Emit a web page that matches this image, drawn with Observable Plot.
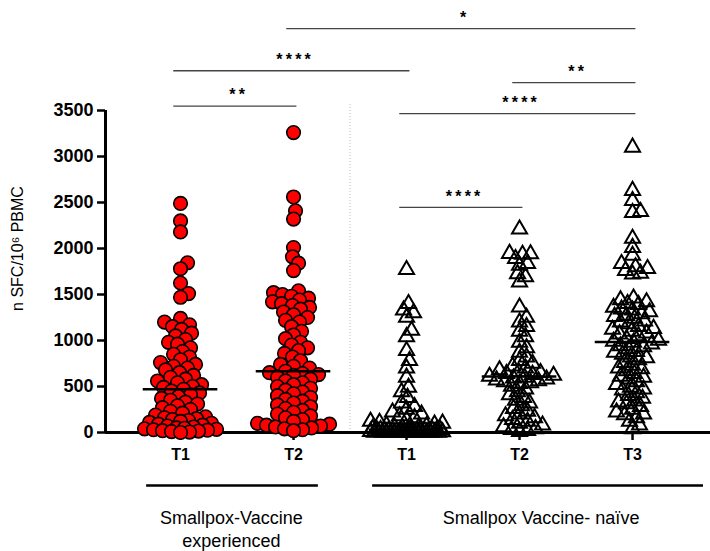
<!DOCTYPE html>
<html><head><meta charset="utf-8">
<script src="https://cdn.jsdelivr.net/npm/d3@7"></script>
<script src="https://cdn.jsdelivr.net/npm/@observablehq/plot@0.6"></script>
<style>body{margin:0;background:#fff} #chart svg{display:block}</style>
</head><body><div id="chart"></div>
<script>
// ---- data ----
const groupLabels = ["T1", "T2", "T1", "T2", "T3"];
const cohortNames = ["Smallpox-Vaccine\nexperienced", "Smallpox Vaccine- naïve"];
const cohortFrom = [0, 2];
const cohortTo = [1, 4];
const yLabel = "n SFC/10⁶ PBMC";

const expT1 = [2490, 2300, 2180, 1845, 1780, 1625, 1510, 1470,
  1240, 1200, 1170, 1150, 1120, 1080, 1050, 1010, 980, 960,
  920, 880, 850, 820, 790, 760, 740, 720, 700, 680,
  650, 620, 600, 580, 560, 540, 520, 500, 490, 470,
  450, 430, 410, 390, 370, 350, 330, 310, 290, 270, 250, 230, 210, 190, 170, 160,
  150, 140, 130, 120, 110, 100, 90, 80, 70, 60, 50, 45, 40, 35, 30, 25, 20, 15, 10, 5, 0];
const expT2 = [3260, 2560, 2410, 2320, 2010, 1910, 1840, 1760,
  1540, 1520, 1500, 1480, 1460, 1440, 1420, 1400, 1380, 1360, 1340, 1310, 1280, 1250, 1220, 1200,
  1150, 1100, 1060, 1020, 980, 950, 920, 890, 860,
  820, 780, 740, 720, 700, 665,
  650, 640, 630, 620, 600, 580, 560, 540, 520, 500, 480, 460, 440, 420, 400, 380, 360, 340,
  320, 300, 280, 260, 240, 220, 200, 180, 160, 140, 120, 100, 90, 80, 70, 60, 50, 40, 30, 20];
const naiveT1 = [1770, 1400, 1330, 1300, 1250, 1110, 1040, 890, 780, 700, 600, 490, 440, 380, 320,
  280, 250, 220, 200, 180, 160, 140, 120, 110, 100, 90, 80, 70, 60, 55, 50, 45, 40, 35, 30,
  28, 26, 25, 24, 22, 20, 19, 18, 16, 15, 14, 12, 11, 10, 9, 8, 7, 6, 5, 5, 4, 4, 3, 3, 2, 2, 1, 1, 0, 0, 0, 0, 0, 0];
const naiveT2 = [2210, 1945, 1940, 1935, 1890, 1835, 1815, 1725, 1690, 1635,
  1362, 1250, 1200, 1150, 1100, 1040, 980, 920, 870, 820, 780, 750, 720, 700, 680, 660, 650, 640, 630, 620,
  610,
  600, 590, 580, 570, 560, 550, 540, 530, 500, 470, 440, 410, 380, 350, 320, 290, 260, 230, 200, 180, 160,
  140, 120, 100, 80, 60, 40, 30, 20, 10];
const naiveT3 = [3100, 2630, 2520, 2400, 2390, 2110, 2010, 1925, 1835, 1800, 1780, 1760, 1730, 1720,
  1460, 1440, 1420, 1400, 1390, 1360, 1340, 1330, 1310, 1290, 1270, 1260, 1240, 1210, 1200, 1180, 1150, 1130,
  1120, 1100, 1080, 1070, 1050, 1020, 1000,
  990,
  980, 960, 940, 930, 910, 880, 870, 850, 820, 810, 790, 760, 730, 700, 690, 670, 640, 610, 600, 580, 550, 520,
  490, 470, 460, 430, 400, 370, 340, 330, 310, 280, 250, 220, 200, 190, 160, 120, 80, 40];

// significance brackets
const brFrom = [0, 0, 1, 3, 2, 2];
const brTo = [1, 2, 4, 4, 4, 3];
const brLevel = [3547, 3932, 4391, 3804, 3467, 2446];
const brLabel = ["**", "****", "*", "**", "****", "****"];

// ---- layout ----
const W = 710, H = 551, mL = 105, mR = 0, mT = 110, mB = 119;
const xDom = [-0.664, 4.69];
const yDom = [0, 3500];
const xs = d3.scaleLinear(xDom, [mL, W - mR]);
const ys = d3.scaleLinear(yDom, [H - mB, mT]);
const ppu = xs(1) - xs(0);

function swarm(vals, minD, maxW) {
  const order = vals.map((v, k) => k).sort((a, b) => vals[a] - vals[b]);
  const placed = [];
  const off = new Array(vals.length).fill(0);
  const cands = [0];
  for (let s = 1; s <= maxW; s++) { cands.push(s, -s); }
  for (const k of order) {
    const y = ys(vals[k]);
    let best = 0, bestMd = -1;
    for (const c of cands) {
      let md = Infinity;
      for (const p of placed) {
        const d = Math.hypot(p.x - c, p.y - y);
        if (d < md) md = d;
      }
      if (md >= minD) { best = c; bestMd = md; break; }
      if (md > bestMd) { bestMd = md; best = c; }
    }
    placed.push({x: best, y});
    off[k] = best;
  }
  return off;
}

const series = [expT1, expT2, naiveT1, naiveT2, naiveT3];
const expPts = [], naivePts = [];
series.forEach((vals, g) => {
  const isExp = g < 2;
  const off = swarm(vals, isExp ? 8.5 : 7.8, 36);
  vals.forEach((v, k) => {
    (isExp ? expPts : naivePts).push({g, v, x: g + off[k] / ppu});
  });
});
const medians = series.map((vals, g) => ({g, m: d3.median(vals)}));
const brackets = brFrom.map((f, i) => ({from: f, to: brTo[i], level: brLevel[i], label: brLabel[i].split("").join("\u2009")}));
const cohorts = cohortNames.map((n, i) => ({name: n, from: cohortFrom[i], to: cohortTo[i]}));

const yBar = ys.invert(485), yCoh = ys.invert(508);
const barEnd = xs.invert(703);

const chart = Plot.plot({
  width: W, height: H, marginLeft: mL, marginRight: mR, marginTop: mT, marginBottom: mB,
  x: {domain: xDom}, y: {domain: yDom},
  style: {fontFamily: "Arial, 'Liberation Sans', sans-serif", background: "white", color: "black"},
  marks: [
    Plot.ruleX([1.5], {y1: 0, y2: ys.invert(104), stroke: "#bbb", strokeDasharray: "1,2", strokeWidth: 1}),
    Plot.axisY({ticks: d3.range(0, 3501, 500), tickFormat: d => String(d), tickSize: 8, tickPadding: 4,
      fontWeight: "bold", fontSize: 18, strokeWidth: 2.5, label: null}),
    Plot.axisX({ticks: [0, 1, 2, 3, 4], tickFormat: i => groupLabels[i], tickSize: 8, tickPadding: 8,
      fontWeight: "bold", fontSize: 16, strokeWidth: 2.5, label: null}),
    Plot.ruleX([xDom[0]], {x: d => d, y1: yDom[0], y2: yDom[1], strokeWidth: 3}),
    Plot.ruleY([0], {y: d => d, x1: xDom[0], x2: xDom[1], strokeWidth: 3}),
    Plot.dot(expPts, {x: "x", y: "v", r: 6.8, fill: "#ff0000", stroke: "black", strokeWidth: 1.6}),
    Plot.dot(naivePts, {x: "x", y: "v", r: 5.6, symbol: "triangle", fill: "none", stroke: "black", strokeWidth: 2}),
    Plot.ruleY(medians, {y: "m", x1: d => d.g - 0.33, x2: d => d.g + 0.33, strokeWidth: 2.5}),
    Plot.ruleY(brackets, {y: "level", x1: d => d.from - 0.06, x2: d => d.to + 0.03, stroke: "#444", strokeWidth: 1.3}),
    Plot.text(brackets, {x: d => (d.from + d.to) / 2, y: "level", text: "label", dy: -11, fontSize: 16, fontWeight: "bold"}),
    Plot.ruleY(cohorts, {y: () => yBar, x1: d => d.from - 0.3, x2: (d, i) => i === 0 ? d.to + 0.22 : barEnd, strokeWidth: 2.5}),
    Plot.text(cohorts, {x: (d, i) => i === 0 ? (d.from + d.to) / 2 - 0.05 : 3.19, y: () => yCoh, text: "name",
      lineAnchor: "top", lineHeight: 1.25, fontSize: 18}),
    Plot.text([yLabel], {frameAnchor: "left", y: () => 2000, text: d => d, rotate: -90, dx: -88,
      textAnchor: "middle", fontSize: 16})
  ]
});
document.getElementById("chart").appendChild(chart);
</script>
</body></html>
